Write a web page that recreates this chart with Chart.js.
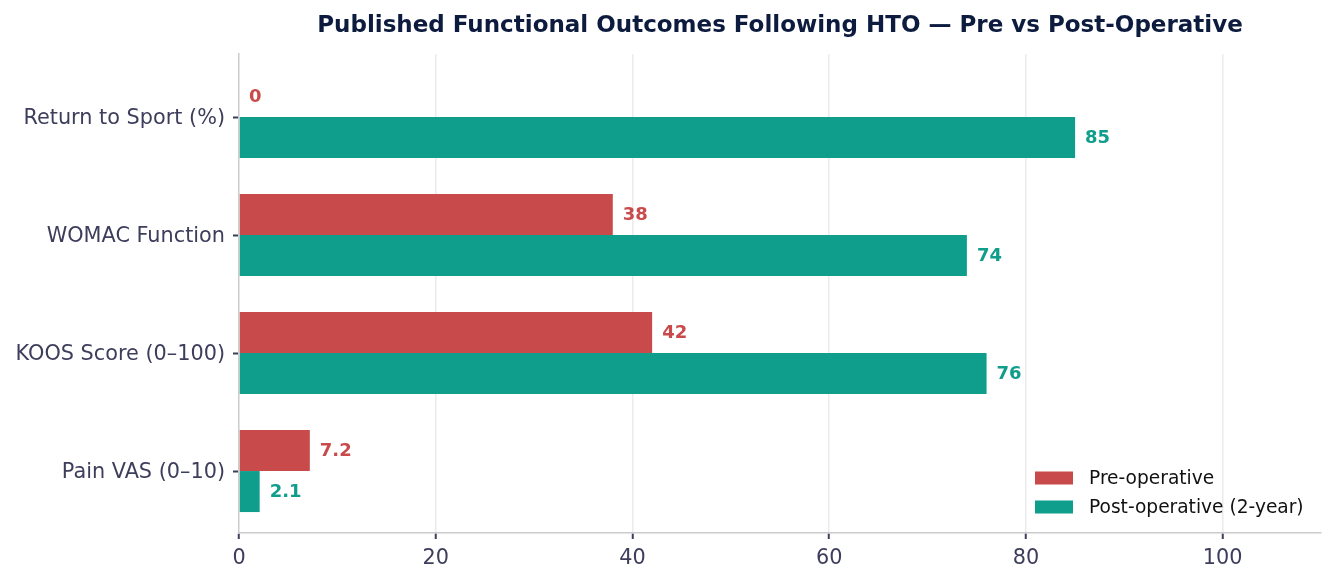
<!DOCTYPE html>
<html>
<head>
<meta charset="utf-8">
<script src="https://cdn.jsdelivr.net/npm/chart.js@4.4.0/dist/chart.umd.min.js"></script>
<style>
  html, body { margin: 0; padding: 0; background: #ffffff; }
  #wrap { width: 1336px; height: 584px; position: relative; }
</style>
</head>
<body>
<div id="wrap"><canvas id="c" width="1336" height="584"></canvas></div>
<script>
const categories = ["Return to Sport (%)", "WOMAC Function", "KOOS Score (0\u2013100)", "Pain VAS (0\u201310)"];
const preOp = [0, 38, 42, 7.2];
const postOp = [85, 74, 76, 2.1];
const seriesNames = ["Pre-operative", "Post-operative (2-year)"];
const xTicks = [0, 20, 40, 60, 80, 100];
const titleText = "Published Functional Outcomes Following HTO \u2014 Pre vs Post-Operative";

const RED = "#C94A4A";
const TEAL = "#0E9E8B";
const FONT = "'DejaVu Sans', sans-serif";
const TICKC = "#3d3d5c";

const labelPlugin = {
  id: "valueLabels",
  afterDatasetsDraw(chart) {
    const ctx = chart.ctx;
    ctx.save();
    ctx.font = "bold 18px " + FONT;
    ctx.textBaseline = "middle";
    ctx.textAlign = "left";
    chart.data.datasets.forEach((ds, i) => {
      const meta = chart.getDatasetMeta(i);
      ctx.fillStyle = ds.backgroundColor;
      meta.data.forEach((bar, j) => {
        ctx.fillText(String(ds.data[j]), bar.x + 10, bar.y + 1);
      });
    });
    ctx.restore();
  }
};

const legendTitlePlugin = {
  id: "legendTitle",
  afterDraw(chart) {
    const ctx = chart.ctx;
    const a = chart.chartArea;
    ctx.save();
    ctx.font = "bold 23px " + FONT;
    ctx.fillStyle = "#0d1b3e";
    ctx.textAlign = "center";
    ctx.textBaseline = "middle";
    ctx.fillText(titleText, (a.left + a.right) / 2, 26);
    ctx.font = "18.6px " + FONT;
    ctx.textAlign = "left";
    const bx = a.right - 286;
    const rows = [a.bottom - 55, a.bottom - 26];
    chart.data.datasets.forEach((ds, i) => {
      ctx.fillStyle = ds.backgroundColor;
      ctx.fillRect(bx, rows[i] - 6.5, 38, 13);
      ctx.fillStyle = "#111111";
      ctx.fillText(ds.label, bx + 54, rows[i] + 1);
    });
    ctx.restore();
  }
};

// pad the category range like the reference (slightly asymmetric margins)
function padCategoryRange(scale) {
  if (scale._padPatched) return;
  scale._padPatched = true;
  const orig = scale.configure.bind(scale);
  scale.configure = function () {
    orig();
    this._startValue = -0.534;
    this._valueRange = 4.059;
  };
  scale.configure();
}

new Chart(document.getElementById("c"), {
  type: "bar",
  data: {
    labels: categories,
    datasets: [
      { label: seriesNames[0], data: preOp, backgroundColor: RED, borderWidth: 0, categoryPercentage: 0.695, barPercentage: 1.0 },
      { label: seriesNames[1], data: postOp, backgroundColor: TEAL, borderWidth: 0, categoryPercentage: 0.695, barPercentage: 1.0 }
    ]
  },
  options: {
    indexAxis: "y",
    responsive: false,
    animation: false,
    devicePixelRatio: 1,
    layout: { padding: { top: 54, right: 15, left: 0, bottom: 0 } },
    plugins: {
      legend: { display: false },
      title: { display: false },
      tooltip: { enabled: false }
    },
    scales: {
      x: {
        type: "linear",
        min: 0,
        max: 110,
        afterBuildTicks(scale) { scale.ticks = xTicks.map(v => ({ value: v })); },
        afterFit(scale) { scale.height = 51; },
        ticks: { color: TICKC, font: { family: FONT, size: 20.8 }, padding: 7, maxRotation: 0 },
        grid: {
          color: ctx => (ctx.tick && ctx.tick.value === 0) ? "rgba(0,0,0,0)" : "#ebebeb",
          lineWidth: 1.5,
          tickColor: TICKC,
          tickLength: 6,
          tickWidth: 2
        },
        border: { display: true, color: "#cccccc", width: 1.5 }
      },
      y: {
        type: "category",
        afterFit(scale) { scale.width = 239; },
        afterUpdate(scale) { padCategoryRange(scale); },
        ticks: { color: TICKC, font: { family: FONT, size: 20.8 }, padding: 8, labelOffset: 2 },
        grid: {
          offset: false,
          drawOnChartArea: false,
          drawTicks: true,
          tickColor: TICKC,
          tickLength: 6,
          tickWidth: 2
        },
        border: { display: true, color: "#cccccc", width: 1.5 }
      }
    }
  },
  plugins: [labelPlugin, legendTitlePlugin]
});
</script>
</body>
</html>
